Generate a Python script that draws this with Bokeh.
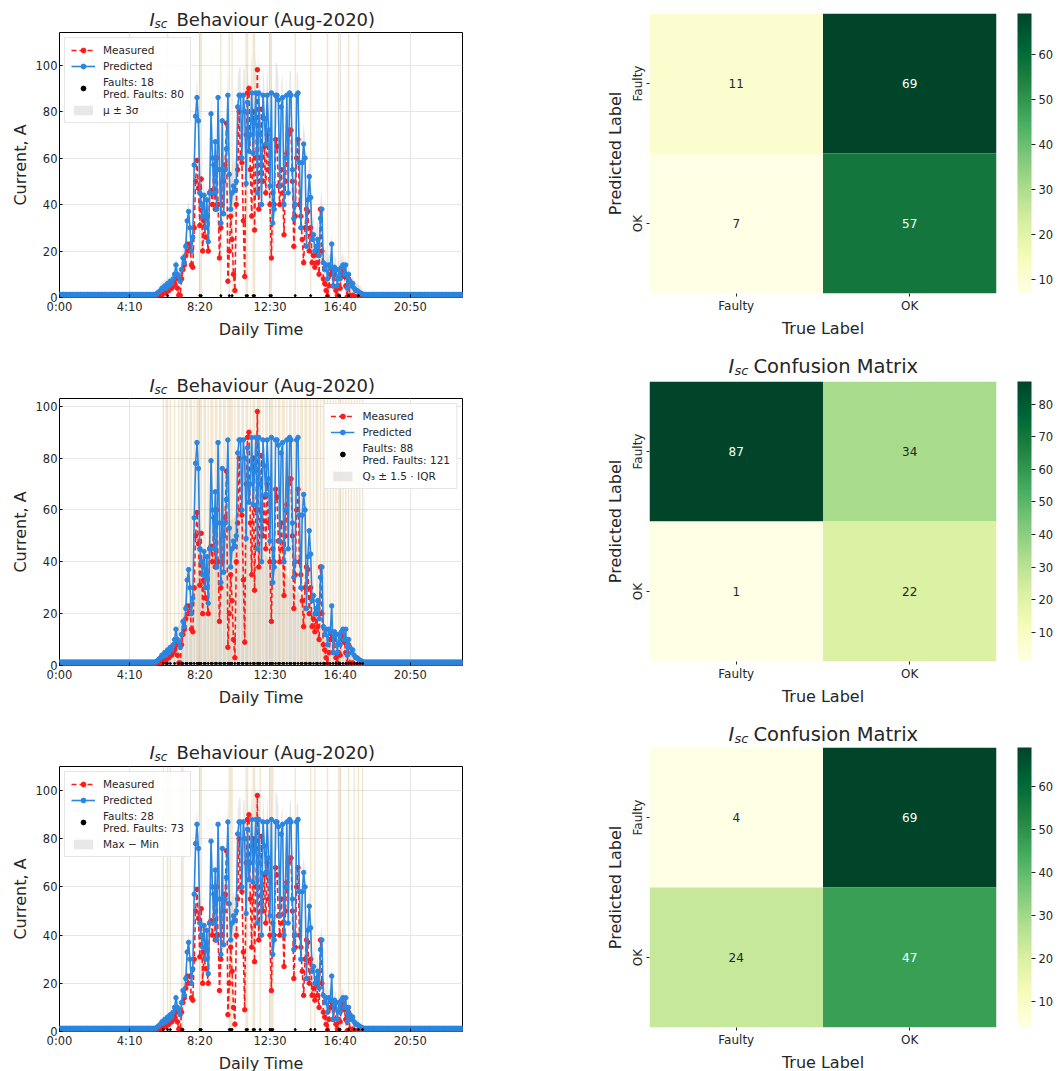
from bokeh.plotting import figure
from bokeh.layouts import row, column
from bokeh.models import (Legend, LegendItem, FixedTicker, ColumnDataSource,
                          LinearColorMapper, ColorBar)
from bokeh.embed import file_html
from bokeh.resources import INLINE
from bokeh.core.properties import value

FONT = "DejaVu Sans"
TXT = "#262626"

# ---------------- data ----------------
tick_minutes = [0, 250, 500, 750, 1000, 1250]
tick_labels = ["0:00", "4:10", "8:20", "12:30", "16:40", "20:50"]
y_ticks = [0, 20, 40, 60, 80, 100]

time_min = list(range(0, 1440, 5))  # 5-minute samples

measured_night_am = [0.0] * 69
predicted_night_am = [1.3] * 69
measured_day = [
    0.5, 1, 1, 2, 1, 2, 3, 2, 4, 3, 5, 4,
    5, 6, 8, 4, 1, 1, 8, 12, 14, 18, 23, 20,
    23, 14, 13, 30, 50, 59, 47, 31, 51, 20, 33, 26,
    26, 20, 45, 46, 40, 57, 38, 60, 40, 17, 30, 40,
    50, 57, 75, 7, 20, 35, 25, 10, 3, 40, 55, 80,
    60, 58, 33, 9, 70, 88, 90, 55, 35, 80, 29, 60,
    98, 38, 60, 81, 50, 65, 45, 70, 55, 40, 17, 45,
    40, 68, 65, 48, 40, 55, 45, 27, 50, 62, 70, 72,
    72, 50, 22, 35, 60, 68, 40, 35, 25, 15, 30, 38,
    37, 20, 30, 15, 18, 13, 20, 15, 10, 38, 20, 8,
    6, 3, 0.5, 5, 10, 12, 5, 10, 3, 1, 5, 4,
    10, 12, 9, 5, 0.3, 8, 1, 0.5, 1, 0.5, 0.3, 0.2,
    0.2, 0.1, 0, 0, 0]
predicted_day = [
    1.5, 2, 2.5, 3, 4, 3.5, 5, 4, 6, 5, 7, 6,
    8, 10, 14, 10, 9, 7, 12, 17, 15, 22, 33, 37,
    30, 20, 26, 57, 78, 86, 76, 45, 40, 35, 44, 30,
    42, 24, 45, 79, 60, 45, 67, 38, 86, 55, 32, 76,
    36, 55, 64, 87, 53, 38, 45, 48, 46, 50, 82, 87,
    87, 60, 87, 80, 49, 84, 63, 70, 88, 62, 75, 88,
    45, 88, 70, 40, 87, 77, 66, 87, 72, 48, 88, 32,
    38, 87, 87, 85, 48, 82, 86, 40, 60, 87, 45, 88,
    87, 55, 34, 40, 87, 88, 58, 30, 58, 66, 60, 22,
    42, 52, 43, 25, 27, 20, 22, 25, 18, 34, 38, 15,
    12, 14, 8, 14, 13, 23, 5, 13, 12, 5, 12, 8,
    13, 14, 10, 14, 4, 10, 7, 5, 6, 4, 3, 3,
    2.5, 2, 1.8, 1.5, 1.3]
measured_night_pm = [0.0] * 70
predicted_night_pm = [1.3] * 70

measured = measured_night_am + measured_day + measured_night_pm
predicted = predicted_night_am + predicted_day + predicted_night_pm

# per-hour half widths of the bands
spread_3sigma = [0.5, 0.5, 0.5, 0.5, 0.5, 1, 3, 5, 8, 10, 12, 18,
                 14, 10, 9, 8, 5, 3, 1, 0.5, 0.5, 0.5, 0.5, 0.5]
spread_maxmin = [0.5, 0.5, 0.5, 0.5, 0.5, 1, 2, 4, 6, 8, 10, 15,
                 12, 8, 7, 6, 4, 2, 1, 0.5, 0.5, 0.5, 0.5, 0.5]
# Q3 +- 1.5 IQR band, every 30 minutes
band_iqr_t = [330, 360, 390, 420, 450, 480, 510, 540, 570, 600, 630, 660, 690, 720,
              750, 780, 810, 840, 870, 900, 930, 960, 990, 1020, 1050, 1080, 1110]
band_iqr_hi = [0.5, 2, 6, 14, 22, 30, 40, 45, 50, 55, 58, 56, 50, 45,
               40, 38, 35, 30, 25, 20, 15, 11, 8, 5, 3, 1, 0.5]
band_iqr_lo = [0] * 27

faults_1 = [385, 500, 505, 575, 605, 615, 665, 670, 690, 695, 750, 755,
            840, 895, 955, 995, 1030, 1065]
faults_2 = [370, 380, 385, 395, 410, 425, 435, 440, 450, 455, 465, 470, 480, 490,
            495, 500, 505, 515, 520, 530, 540, 545, 555, 560, 570, 575, 585, 590,
            600, 605, 610, 615, 625, 635, 640, 650, 655, 665, 670, 680, 690, 695,
            705, 710, 715, 725, 735, 740, 750, 755, 760, 770, 780, 785, 795, 800,
            810, 820, 825, 835, 840, 850, 860, 865, 875, 880, 890, 895, 905, 915,
            920, 930, 940, 945, 955, 965, 975, 985, 995, 1000, 1010, 1020, 1030,
            1040, 1050, 1060, 1070, 1080]
faults_3 = [370, 385, 395, 435, 440, 500, 505, 605, 610, 615, 665, 670, 690, 695,
            715, 750, 755, 760, 840, 895, 910, 955, 995, 1000, 1030, 1050, 1065, 1080]

cm_labels = ["Faulty", "OK"]
cm_1 = [[11, 69], [7, 57]]   # rows: predicted Faulty, OK ; cols: true Faulty, OK
cm_2 = [[87, 34], [1, 22]]
cm_3 = [[4, 69], [24, 47]]
cb_ticks_1 = [10, 20, 30, 40, 50, 60]
cb_ticks_2 = [10, 20, 30, 40, 50, 60, 70, 80]
cb_ticks_3 = [10, 20, 30, 40, 50, 60]

# --------------- colours ---------------
ylgn_stops = ["#ffffe5", "#f7fcb9", "#d9f0a3", "#addd8e", "#78c679",
              "#41ab5d", "#238443", "#006837", "#004529"]


def interp_palette(stops, n):
    rgb = [tuple(int(s[i:i + 2], 16) for i in (1, 3, 5)) for s in stops]
    out = []
    for k in range(n):
        t = k / (n - 1) * (len(rgb) - 1)
        i = min(int(t), len(rgb) - 2)
        f = t - i
        c = [round(rgb[i][j] + (rgb[i + 1][j] - rgb[i][j]) * f) for j in range(3)]
        out.append("#%02x%02x%02x" % tuple(c))
    return out


YLGN = interp_palette(ylgn_stops, 256)


def lum(hexc):
    vals = []
    for i in (1, 3, 5):
        c = int(hexc[i:i + 2], 16) / 255
        vals.append(c / 12.92 if c <= 0.03928 else ((c + 0.055) / 1.055) ** 2.4)
    return 0.2126 * vals[0] + 0.7152 * vals[1] + 0.0722 * vals[2]


RED = "#ff1a1a"
BLUE = "#2a86e0"

# borders / frames
TS_LEFT, TS_FRAME, TS_RIGHT = 59, 403, 120
CM_LEFT, CM_FRAME, CM_RIGHT = 67, 347, 58


def style_axes(p, tick_size):
    for ax in (p.xaxis[0], p.yaxis[0]):
        ax.major_label_text_font = FONT
        ax.major_label_text_font_size = tick_size
        ax.major_label_text_color = TXT
        ax.axis_label_text_font = FONT
        ax.axis_label_text_font_size = "16px"
        ax.axis_label_text_font_style = "normal"
        ax.axis_label_text_color = TXT
        ax.minor_tick_line_color = None
        ax.major_label_standoff = 2
        ax.axis_label_standoff = 3


def title_fig(b_left, frame_w, b_right, height, xs, y_mid, rest, size, sub_size):
    """A strip holding the title I_sc + text, drawn as text glyphs (x in px from frame left)."""
    t = figure(frame_width=frame_w, frame_height=height, x_range=(0, frame_w),
               y_range=(0, height), output_backend="svg", toolbar_location=None,
               title=None, x_axis_type=None, y_axis_type=None,
               min_border_left=b_left, min_border_right=b_right,
               min_border_top=0, min_border_bottom=0)
    t.outline_line_color = None
    t.grid.grid_line_color = None
    t.text(x=[xs[0]], y=[y_mid], text=["I"], text_font=value(FONT), text_font_size=size,
           text_font_style="italic", text_color=TXT, text_baseline="middle")
    t.text(x=[xs[1]], y=[y_mid - 4], text=["sc"], text_font=value(FONT),
           text_font_size=sub_size, text_font_style="italic", text_color=TXT,
           text_baseline="middle")
    t.text(x=[xs[2]], y=[y_mid], text=[rest], text_font=value(FONT), text_font_size=size,
           text_color=TXT, text_baseline="middle")
    return t


def make_ts(frame_h, b_top, b_bottom, y_end, band_lo, band_hi, band_x, band_label,
            faults, fault_label, legend_loc):
    p = figure(frame_width=TS_FRAME, frame_height=frame_h, x_range=(0, 1436),
               y_range=(0, y_end), output_backend="svg", toolbar_location=None, title=None,
               min_border_left=TS_LEFT, min_border_right=TS_RIGHT, min_border_top=b_top,
               min_border_bottom=b_bottom)
    p.outline_line_color = "black"
    p.outline_line_width = 1
    p.xgrid.grid_line_color = "#e6e6e6"
    p.ygrid.grid_line_color = "#e6e6e6"
    p.xaxis.ticker = FixedTicker(ticks=tick_minutes)
    p.xaxis.major_label_overrides = dict(zip(tick_minutes, tick_labels))
    p.yaxis.ticker = FixedTicker(ticks=y_ticks)
    p.xaxis.axis_label = "Daily Time"
    p.yaxis.axis_label = "Current, A"
    for ax in (p.xaxis[0], p.yaxis[0]):
        ax.axis_line_color = None
        ax.major_tick_in = 3
        ax.major_tick_out = 0
        ax.major_tick_line_color = "black"
    style_axes(p, "11.5px")

    band = p.varea(x=band_x, y1=band_lo, y2=band_hi, fill_color="#bdbdbd", fill_alpha=0.35)
    p.segment(x0=faults, y0=[0] * len(faults), x1=faults, y1=[y_end] * len(faults),
              line_color="#d9b77a", line_alpha=0.35, line_width=1.4)
    ml = p.line(time_min, measured, line_color=RED, line_width=1.6, line_dash="5 3")
    ms = p.scatter(time_min, measured, size=4.5, fill_color=RED, line_color=RED)
    pl = p.line(time_min, predicted, line_color=BLUE, line_width=1.6)
    ps = p.scatter(time_min, predicted, size=4.5, fill_color=BLUE, line_color=BLUE)
    fd = p.scatter(faults, [0.8] * len(faults), size=2, fill_color="black", line_color="black")

    legend = Legend(items=[LegendItem(label="Measured", renderers=[ml, ms]),
                           LegendItem(label="Predicted", renderers=[pl, ps]),
                           LegendItem(label=fault_label, renderers=[fd]),
                           LegendItem(label=band_label, renderers=[band])],
                    location=legend_loc, label_text_font=FONT, label_text_font_size="10.5px",
                    label_text_color=TXT, glyph_width=24, glyph_height=12, label_height=12,
                    spacing=4, padding=6, margin=5, label_standoff=8,
                    border_line_color="#cccccc", background_fill_alpha=0.85)
    p.add_layout(legend)
    return p


def make_cm(cm, ticks, b_top, b_bottom):
    flat = [v for r in cm for v in r]
    lo, hi = min(flat), max(flat)
    mapper = LinearColorMapper(palette=YLGN, low=lo, high=hi)
    p = figure(frame_width=CM_FRAME, frame_height=280, x_range=(0, 2), y_range=(0, 2),
               output_backend="svg", toolbar_location=None, title=None,
               min_border_left=CM_LEFT, min_border_right=CM_RIGHT, min_border_top=b_top,
               min_border_bottom=b_bottom)
    p.outline_line_color = None
    p.grid.grid_line_color = None
    xs, ys, vals, txt_cols = [], [], [], []
    for ri, r in enumerate(cm):
        for ci, v in enumerate(r):
            xs.append(ci + 0.5)
            ys.append(1.5 - ri)
            vals.append(v)
            idx = int(round((v - lo) / (hi - lo) * 255))
            txt_cols.append("white" if lum(YLGN[idx]) < 0.408 else TXT)
    src = ColumnDataSource(dict(x=xs, y=ys, v=vals, t=[str(v) for v in vals], c=txt_cols))
    p.rect(x="x", y="y", width=1, height=1, fill_color={"field": "v", "transform": mapper},
           line_color=None, source=src)
    p.text(x="x", y="y", text="t", text_color="c", source=src, text_align="center",
           text_baseline="middle", text_font=value(FONT), text_font_size="12px")
    p.xaxis.ticker = FixedTicker(ticks=[0.5, 1.5])
    p.xaxis.major_label_overrides = {0.5: cm_labels[0], 1.5: cm_labels[1]}
    p.yaxis.ticker = FixedTicker(ticks=[0.5, 1.5])
    p.yaxis.major_label_overrides = {1.5: cm_labels[0], 0.5: cm_labels[1]}
    p.yaxis.major_label_orientation = "vertical"
    p.xaxis.axis_label = "True Label"
    p.yaxis.axis_label = "Predicted Label"
    for ax in (p.xaxis[0], p.yaxis[0]):
        ax.axis_line_color = None
        ax.major_tick_in = 0
        ax.major_tick_out = 3
        ax.major_tick_line_color = TXT
    style_axes(p, "12px")
    cb = ColorBar(color_mapper=mapper, ticker=FixedTicker(ticks=ticks), width=14, height=280,
                  padding=0, margin=0, location=(21, 0), major_tick_out=4, major_tick_in=0,
                  major_tick_line_color=TXT, major_label_text_font=FONT,
                  major_label_text_font_size="11.5px", major_label_text_color=TXT,
                  label_standoff=3, bar_line_color=None, border_line_color=None,
                  background_fill_color=None)
    p.add_layout(cb, "right")
    return p


band1_lo = [max(0, v - spread_3sigma[t // 60]) for t, v in zip(time_min, predicted)]
band1_hi = [v + spread_3sigma[t // 60] for t, v in zip(time_min, predicted)]
band3_lo = [max(0, v - spread_maxmin[t // 60]) for t, v in zip(time_min, predicted)]
band3_hi = [v + spread_maxmin[t // 60] for t, v in zip(time_min, predicted)]

# title text x positions, px from the frame's left edge
left_title_x = (149 - TS_LEFT, 154 - TS_LEFT, 176 - TS_LEFT)
right_title_x = (728 - 649, 734 - 649, 753 - 649)

T1 = title_fig(TS_LEFT, TS_FRAME, TS_RIGHT, 30, left_title_x, 11, "Behaviour (Aug-2020)",
               "18px", "12px")
L1 = make_ts(265, 2, 69, 114, band1_lo, band1_hi, time_min, "μ ± 3σ",
             faults_1, "Faults: 18\nPred. Faults: 80", "top_left")
T2 = title_fig(TS_LEFT, TS_FRAME, TS_RIGHT, 30, left_title_x, 11, "Behaviour (Aug-2020)",
               "18px", "12px")
L2 = make_ts(267, 2, 69, 103, band_iqr_lo, band_iqr_hi, band_iqr_t, "Q₃ ± 1.5 · IQR",
             faults_2, "Faults: 88\nPred. Faults: 121", "top_right")
T3 = title_fig(TS_LEFT, TS_FRAME, TS_RIGHT, 30, left_title_x, 12, "Behaviour (Aug-2020)",
               "18px", "12px")
L3 = make_ts(265, 2, 37, 110, band3_lo, band3_hi, time_min, "Max − Min",
             faults_3, "Faults: 28\nPred. Faults: 73", "top_left")

R1 = make_cm(cm_1, cb_ticks_1, 13, 57)
TR2 = title_fig(CM_LEFT, CM_FRAME, CM_RIGHT, 28, right_title_x, 12, "Confusion Matrix",
                "19.5px", "13px")
R2 = make_cm(cm_2, cb_ticks_2, 3, 55)
TR3 = title_fig(CM_LEFT, CM_FRAME, CM_RIGHT, 30, right_title_x, 12, "Confusion Matrix",
                "19.5px", "13px")
R3 = make_cm(cm_3, cb_ticks_3, 1, 40)

layout = row(column(T1, L1, T2, L2, T3, L3), column(R1, TR2, R2, TR3, R3))
open("out.html", "w").write(file_html(layout, INLINE))
